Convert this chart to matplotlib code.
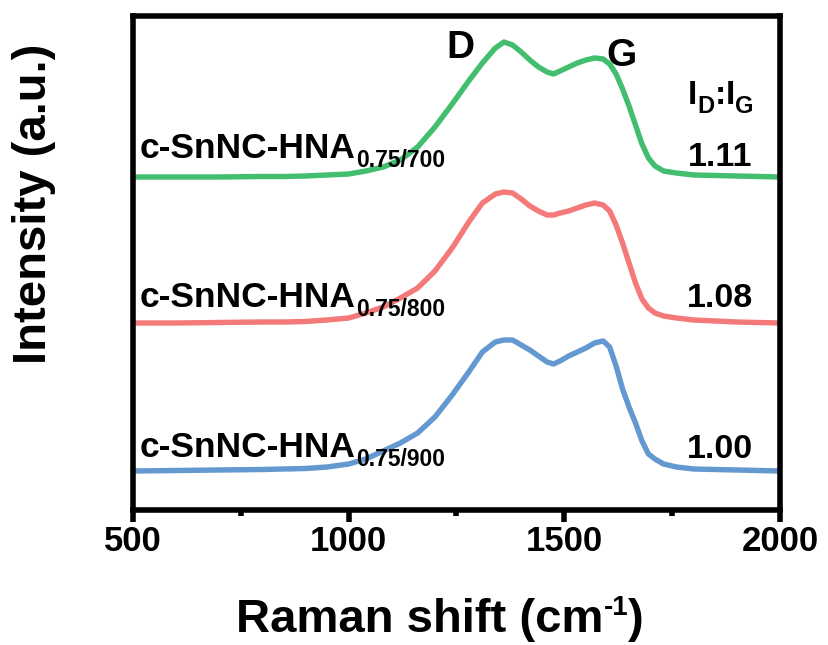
import matplotlib
matplotlib.use('Agg')
import matplotlib.pyplot as plt
from matplotlib.ticker import MultipleLocator
from matplotlib.transforms import offset_copy

plt.rcParams['font.family'] = ['Liberation Sans', 'DejaVu Sans']
plt.rcParams['font.weight'] = 'bold'

# ---------------- data ----------------
wavenumber = [500, 600, 700, 800, 850, 900, 950, 1000, 1040, 1080, 1120, 1160,
              1200, 1240, 1280, 1310, 1340, 1360, 1380, 1400, 1420, 1440, 1460,
              1475, 1490, 1510, 1530, 1550, 1570, 1590, 1605, 1620, 1635, 1650,
              1665, 1680, 1695, 1710, 1730, 1760, 1800, 1850, 1900, 1950, 2000]

int_700 = [0, 0, 0, 0.5, 0.5, 1, 2, 3, 6, 10, 17, 30,
           50, 73, 97, 114, 129, 135, 132, 125, 117, 110, 105,
           103, 106, 110, 114, 117, 119, 118, 113, 103, 88, 71,
           52, 33, 19, 11, 6, 4, 2, 1.5, 1, 0.5, 0]

int_800 = [0, 0, 0.5, 1, 1, 1.5, 3, 5, 10, 16, 25, 35,
           52, 75, 102, 120, 129, 131, 130, 124, 117, 112, 108,
           108, 110, 112, 115, 118, 120, 118, 112, 98, 80, 60,
           40, 24, 15, 10, 7, 5, 3, 2, 1, 0.5, 0]

int_900 = [0, 0.5, 1, 1.5, 2, 2.5, 4, 7, 12, 20, 28, 38,
           54, 76, 100, 119, 129, 131, 131, 126, 121, 115, 109,
           107, 110, 115, 119, 123, 128, 130, 124, 105, 82, 64,
           48, 30, 17, 12, 7, 4, 2, 1.5, 1, 0.5, 0]

offset_700 = 332.5
offset_800 = 186.5
offset_900 = 38.5

sample_names = ['c-SnNC-HNA', 'c-SnNC-HNA', 'c-SnNC-HNA']
sample_subs = ['0.75/700', '0.75/800', '0.75/900']
ratios = ['1.11', '1.08', '1.00']

colors = ['#42BE6E', '#F47A7A', '#6399D0']

# ---------------- figure ----------------
fig = plt.figure(figsize=(8.29, 6.45), dpi=100)
ax = fig.add_axes([133 / 829, 1 - 509.5 / 645, 647 / 829, 494 / 645])

series = [(int_700, offset_700), (int_800, offset_800), (int_900, offset_900)]
for (vals, off), c in zip(series, colors):
    ax.plot(wavenumber, [v + off for v in vals], color=c, lw=3.9,
            solid_joinstyle='round', solid_capstyle='butt', clip_on=False)

ax.set_xlim(500, 2000)
ax.set_ylim(0, 494)
ax.set_yticks([])
ax.xaxis.set_major_locator(MultipleLocator(500))
ax.xaxis.set_minor_locator(MultipleLocator(250))
for s in ax.spines.values():
    s.set_linewidth(4)
ax.tick_params(axis='x', which='major', length=8.3, width=4, direction='out',
               labelsize=25, pad=3)
ax.tick_params(axis='x', which='minor', length=4.3, width=4, direction='out')
for lab in ax.get_xticklabels():
    lab.set_fontweight('bold')

renderer = fig.canvas.get_renderer()


def rich(x, y, parts, transform, align='left'):
    arts = []
    widths = []
    for s, size, dy in parts:
        t = fig.text(x, y, s, fontsize=size, fontweight='bold', ha='left',
                     va='baseline', transform=transform)
        widths.append(t.get_window_extent(renderer).width * 72 / fig.dpi)
        arts.append((t, dy))
    total = sum(widths)
    dx = {'left': 0, 'center': -total / 2, 'right': -total}[align]
    for (t, dy), w in zip(arts, widths):
        t.set_transform(offset_copy(transform, fig=fig, x=dx, y=dy, units='points'))
        dx += w


# sample labels
label_y = [351.5, 202.5, 52.5]
for name, sub, yy in zip(sample_names, sample_subs, label_y):
    rich(516, yy, [(name, 25.5, 0), (sub, 16.5, -6.8)], ax.transData)

# ratios
ratio_y = [343.5, 202.5, 51.5]
for r, yy in zip(ratios, ratio_y):
    ax.text(1937, yy, r, fontsize=24.5, fontweight='bold', ha='right', va='baseline')

rich(1787, 405.5, [('I', 24, 0), ('D', 17, -6.5), (':', 24, 0), ('I', 24, 0), ('G', 17, -6.5)],
     ax.transData)

# D and G peak labels
ax.text(1226, 451.5, 'D', fontsize=28, fontweight='bold', ha='left', va='baseline')
ax.text(1597, 443.5, 'G', fontsize=28, fontweight='bold', ha='left', va='baseline')

# axis labels
rich(440 / 829, 1 - 632 / 645, [('Raman shift (cm', 34, 0), ('-1', 20, 12), (')', 34, 0)],
     fig.transFigure, align='center')
fig.text(34 / 829, 1 - 204 / 645, 'Intensity (a.u.)', fontsize=34, fontweight='bold',
         rotation=90, ha='center', va='center')

fig.savefig('out.png', dpi=100)
